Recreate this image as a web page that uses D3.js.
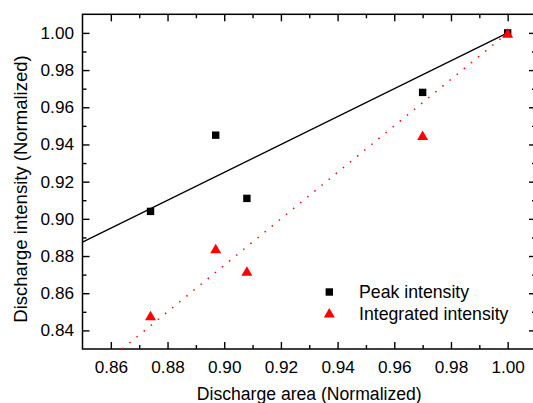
<!DOCTYPE html>
<html>
<head>
<meta charset="utf-8">
<script src="https://cdn.jsdelivr.net/npm/d3@7"></script>
<style>
  html, body { margin: 0; padding: 0; background: #fff; }
  svg { display: block; }
  text { font-family: "Liberation Sans", Arial, Helvetica, sans-serif; fill: #000; }
</style>
</head>
<body>
<svg id="chart" width="533" height="403"></svg>
<script>
// Discharge measurements, normalized
const area = [0.874, 0.897, 0.908, 0.970, 1.000];
const peakIntensity = [0.904, 0.945, 0.911, 0.968, 1.000];
const integratedIntensity = [0.848, 0.884, 0.872, 0.945, 1.000];

// Linear fits: [slope, intercept] and x span of each line
const peakFit = [0.75, 0.25];
const integratedFit = [1.25, -0.25];
const fitSpan = [0.85, 1.00];

// Axis ticks
const xTicks = [0.86, 0.88, 0.90, 0.92, 0.94, 0.96, 0.98, 1.00];
const xMinorTicks = [0.87, 0.89, 0.91, 0.93, 0.95, 0.97, 0.99];
const yTicks = [0.84, 0.86, 0.88, 0.90, 0.92, 0.94, 0.96, 0.98, 1.00];
const yMinorTicks = [0.85, 0.87, 0.89, 0.91, 0.93, 0.95, 0.97, 0.99];

const legendLabels = ["Peak intensity", "Integrated intensity"];

const svg = d3.select("#chart");
const plotLeft = 82.5, plotRight = 536, plotTop = 14.3, plotBottom = 349;

const x = d3.scaleLinear().domain([0.85, 1.01]).range([plotLeft, plotRight]);
const y = d3.scaleLinear().domain([0.83, 1.01]).range([plotBottom, plotTop]);

const fontSize = 17.2;
const majorLen = 7, minorLen = 4;

function styleAxis(g) {
  g.select(".domain").remove();
  g.selectAll("line").attr("stroke", "#000").attr("stroke-width", 1.4);
  g.selectAll("text").attr("font-size", fontSize).attr("fill", "#000")
    .style("font-family", '"Liberation Sans", Arial, Helvetica, sans-serif');
}

// Bottom axis with labels
svg.append("g").attr("transform", `translate(0,${plotBottom})`)
  .call(d3.axisBottom(x).tickValues(xTicks).tickFormat(d3.format(".2f"))
    .tickSizeInner(-majorLen).tickSizeOuter(0).tickPadding(11.5))
  .call(styleAxis);
svg.append("g").attr("transform", `translate(0,${plotBottom})`)
  .call(d3.axisBottom(x).tickValues(xMinorTicks).tickFormat("")
    .tickSizeInner(-minorLen).tickSizeOuter(0))
  .call(styleAxis);
// Top axis mirror ticks
svg.append("g").attr("transform", `translate(0,${plotTop})`)
  .call(d3.axisTop(x).tickValues(xTicks).tickFormat("")
    .tickSizeInner(-majorLen).tickSizeOuter(0))
  .call(styleAxis);
svg.append("g").attr("transform", `translate(0,${plotTop})`)
  .call(d3.axisTop(x).tickValues(xMinorTicks).tickFormat("")
    .tickSizeInner(-minorLen).tickSizeOuter(0))
  .call(styleAxis);

// Left axis with labels
svg.append("g").attr("transform", `translate(${plotLeft},0)`)
  .call(d3.axisLeft(y).tickValues(yTicks).tickFormat(d3.format(".2f"))
    .tickSizeInner(-majorLen).tickSizeOuter(0).tickPadding(8.5))
  .call(styleAxis);
svg.append("g").attr("transform", `translate(${plotLeft},0)`)
  .call(d3.axisLeft(y).tickValues(yMinorTicks).tickFormat("")
    .tickSizeInner(-minorLen).tickSizeOuter(0))
  .call(styleAxis);
// Right axis mirror ticks
svg.append("g").attr("transform", `translate(${plotRight},0)`)
  .call(d3.axisRight(y).tickValues(yTicks).tickFormat("")
    .tickSizeInner(-majorLen).tickSizeOuter(0))
  .call(styleAxis);
svg.append("g").attr("transform", `translate(${plotRight},0)`)
  .call(d3.axisRight(y).tickValues(yMinorTicks).tickFormat("")
    .tickSizeInner(-minorLen).tickSizeOuter(0))
  .call(styleAxis);

// Frame
svg.append("rect")
  .attr("x", plotLeft).attr("y", plotTop)
  .attr("width", plotRight - plotLeft).attr("height", plotBottom - plotTop)
  .attr("fill", "none").attr("stroke", "#000").attr("stroke-width", 1.5);

// Clip for fit lines
svg.append("clipPath").attr("id", "plotClip")
  .append("rect").attr("x", plotLeft).attr("y", plotTop)
  .attr("width", plotRight - plotLeft).attr("height", plotBottom - plotTop);

const fitLine = (fit) => d3.line()
  .x(d => x(d))
  .y(d => y(fit[0] * d + fit[1]));

svg.append("path")
  .attr("clip-path", "url(#plotClip)")
  .attr("d", fitLine(peakFit)(fitSpan))
  .attr("fill", "none").attr("stroke", "#000").attr("stroke-width", 1.3);

svg.append("path")
  .attr("clip-path", "url(#plotClip)")
  .attr("d", fitLine(integratedFit)(fitSpan.slice().reverse()))
  .attr("fill", "none").attr("stroke", "#ff0000").attr("stroke-width", 1.5)
  .attr("stroke-dasharray", "1.5,7.7");

// Markers
const sq = 7.4;
const triW = 11, triH = 9.5;
const triPath = (cx, cy) =>
  `M${cx},${cy - triH / 2}L${cx + triW / 2},${cy + triH / 2}L${cx - triW / 2},${cy + triH / 2}Z`;

svg.append("g").selectAll("rect")
  .data(area.map((a, i) => [a, peakIntensity[i]]))
  .join("rect")
  .attr("x", d => x(d[0]) - sq / 2).attr("y", d => y(d[1]) - sq / 2)
  .attr("width", sq).attr("height", sq).attr("fill", "#000");

svg.append("g").selectAll("path")
  .data(area.map((a, i) => [a, integratedIntensity[i]]))
  .join("path")
  .attr("d", d => triPath(x(d[0]), y(d[1])))
  .attr("fill", "#ff0000");

// Legend
const legend = svg.append("g");
legend.append("rect")
  .attr("x", 329.3 - sq / 2).attr("y", 292 - sq / 2)
  .attr("width", sq).attr("height", sq).attr("fill", "#000");
legend.append("path").attr("d", triPath(329.3, 312.7)).attr("fill", "#ff0000");
legend.append("text").attr("x", 359).attr("y", 298)
  .attr("font-size", 17.7).text(legendLabels[0]);
legend.append("text").attr("x", 359).attr("y", 319.5)
  .attr("font-size", 17.7).text(legendLabels[1]);

// Axis titles
svg.append("text")
  .attr("x", (plotLeft + plotRight) / 2).attr("y", 400)
  .attr("text-anchor", "middle").attr("font-size", 17.6)
  .text("Discharge area (Normalized)");

svg.append("text")
  .attr("transform", `translate(27,${189}) rotate(-90)`)
  .attr("text-anchor", "middle").attr("font-size", 18.5)
  .text("Discharge intensity (Normalized)");
</script>
</body>
</html>
